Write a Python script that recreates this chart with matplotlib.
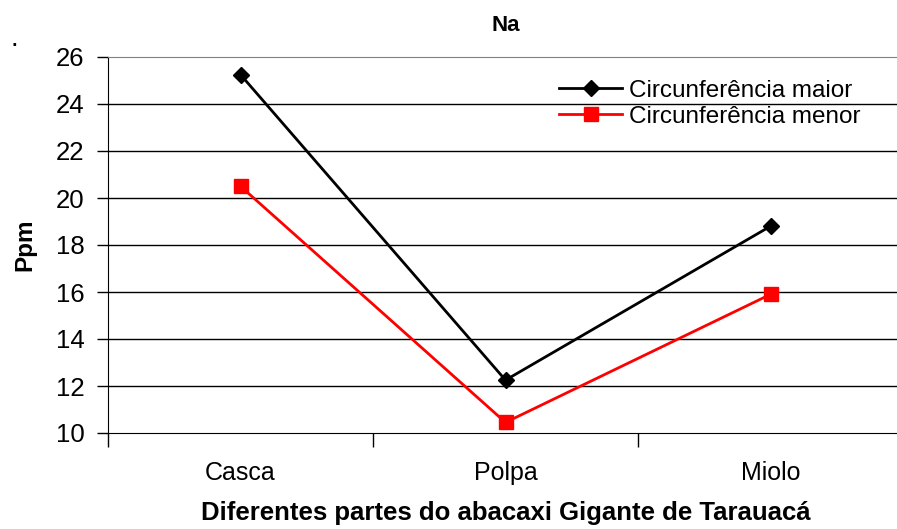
import matplotlib.pyplot as plt
import numpy as np

plt.rcParams['font.family'] = ['Liberation Sans', 'DejaVu Sans']

partes = ['Casca', 'Polpa', 'Miolo']
maior = [25.25, 12.25, 18.8]
menor = [20.5, 10.45, 15.9]
yticks = [10, 12, 14, 16, 18, 20, 22, 24, 26]

fig = plt.figure(figsize=(8.97, 5.29), dpi=100)
ax = fig.add_axes([108/897, 96/529, 795/897, 376/529])

x = np.arange(len(partes))
ax.plot(x, maior, '-D', color='black', lw=2, ms=8, label='Circunferência maior')
ax.plot(x, menor, '-s', color='red', mfc='red', mec='red', lw=2, ms=10, label='Circunferência menor')

ax.set_xlim(-0.5, 2.5)
ax.set_ylim(10, 26)
ax.set_yticks(yticks)
ax.set_xticks(x)
ax.set_xticklabels(partes, fontsize=18)
ax.set_xticks([-0.5, 0.5, 1.5], minor=True)
ax.tick_params(axis='x', which='major', length=0, pad=20)
ax.tick_params(axis='x', which='minor', length=10, width=1, direction='out')
ax.tick_params(axis='y', labelsize=18.5, length=8, width=1, direction='out', pad=9)

for v in yticks[1:-1]:
    ax.axhline(v, color='black', lw=1, zorder=0)
ax.spines['top'].set_color('#808080')
ax.spines['right'].set_visible(False)

ax.set_title('Na', fontsize=16, fontweight='bold', pad=19)
ax.set_ylabel('Ppm', fontsize=17.5, fontweight='bold', labelpad=14)
ax.set_xlabel('Diferentes partes do abacaxi Gigante de Tarauacá', fontsize=18.5,
              fontweight='bold', labelpad=12)

ax.legend(loc='upper left', bbox_to_anchor=(0.555, 0.965), frameon=False, fontsize=17.5,
          handlelength=2.6, handletextpad=0.3, labelspacing=0.15, borderaxespad=0)

fig.text(10/897, 1 - 46/529, '.', fontsize=20)

fig.savefig('out.png', dpi=100)
